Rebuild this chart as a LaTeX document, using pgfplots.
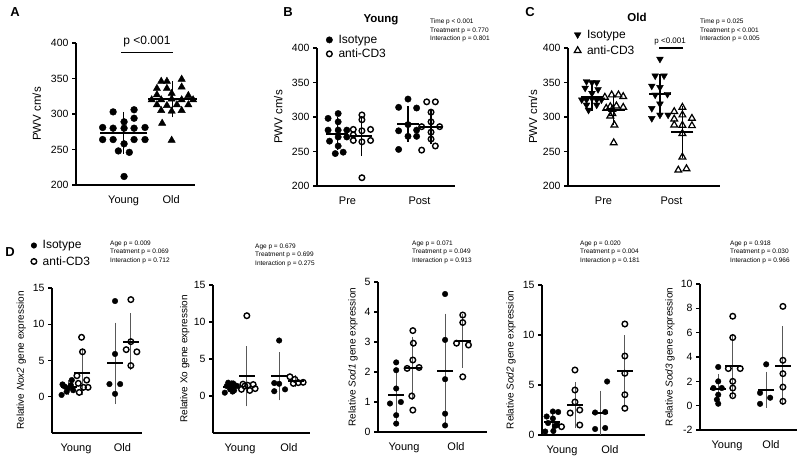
\documentclass[border=0pt]{standalone}
\usepackage{pgfplots}
\pgfplotsset{compat=1.18}
\usepackage{fontspec}
\setmainfont{Liberation Sans}

\pgfplotsset{
 gp/.style={
  scale only axis, anchor=south west, clip=false,
  axis x line*=bottom, axis y line*=left,
  axis line style={line width=1.1pt,-},
  tick align=outside, major tick length=4pt,
  ytick style={line width=1.1pt,black},
  xtick style={draw=none},
  yticklabel style={font=\fontsize{10.5}{12}\selectfont},
  xticklabel style={font=\fontsize{11}{13}\selectfont, yshift=-3pt},
  /pgf/number format/assume math mode=true,
  xtick={1,2},
  ylabel style={anchor=center},
  legend cell align=left,
  legend image code/.code={\draw[mark repeat=2,mark phase=2,##1] plot coordinates {(0pt,0pt)(6pt,0pt)(12pt,0pt)};},
 },
 leg/.style={legend style={at={#1}, anchor=north west, draw=none, fill=none,
  font=\fontsize{12}{14}\selectfont, inner sep=0pt, row sep=2pt,
  /tikz/every odd column/.append style={column sep=4pt}}},
 iso/.style={only marks, mark=*, mark size=3.2pt, black},
 anti/.style={only marks, mark=o, mark size=2.8pt, black, mark options={line width=1.4pt, fill=white}},
 isoT/.style={only marks, mark=triangle*, mark size=3.9pt, black, mark options={rotate=180}},
 antiT/.style={only marks, mark=triangle, mark size=3.9pt, black, mark options={line width=1.2pt, fill=white}},
 msd/.style n args={4}{only marks, mark=-, mark size=#1, black, mark options={line width=2pt},
   error bars/y dir=both, error bars/y explicit,
   error bars/error bar style={line width=#4, #3},
   error bars/error mark options={mark size=#2, line width=#4, #3}},
}
\tikzset{stat/.style={anchor=north west, align=left, inner sep=0pt, font=\fontsize{6.5}{8.6}\selectfont},
 letter/.style={font=\bfseries\fontsize{13}{15}\selectfont, inner sep=0pt},
 dlab/.style={font=\fontsize{10}{12}\selectfont}}

\begin{document}
\begin{tikzpicture}
\useasboundingbox (0pt,0pt) rectangle (803pt,459pt);

% ---------------- A ----------------
\begin{axis}[gp, at={(76pt,274pt)}, width=119pt, height=142pt,
 xmin=0, xmax=2.5, ymin=200, ymax=400, ytick={200,250,...,400},
 xticklabels={Young,Old}, ylabel={PWV cm/s},
 ylabel style={at={(axis description cs:-0.33,0.5)}, font=\fontsize{11.5}{13}\selectfont}]
\addplot[iso, mark size=3.4pt] coordinates {
 (0.78,303) (1.22,306) (1.22,294) (1.01,289) (0.56,281) (0.78,280) (1.01,280) (1.22,280) (1.45,281)
 (0.56,264) (0.78,264) (1.22,264) (1.45,264) (1.01,258) (0.89,248) (1.12,246) (1.01,212)};
\addplot[only marks, mark=triangle*, mark size=4.2pt, black] coordinates {
 (1.79,346) (1.91,346) (2.22,349) (1.70,336) (1.91,336) (2.22,338) (1.70,327) (2.01,329) (2.36,326)
 (1.59,320) (1.79,320) (2.01,321) (2.22,320) (2.46,320) (1.70,313) (1.91,312) (2.12,313) (2.36,313)
 (1.79,305) (2.01,304) (2.22,305) (1.81,287) (2.01,263)};
\addplot[msd={23.5pt}{5pt}{black}{1.3pt}] coordinates {(1.0,273.5) +- (0,22.5)};
\addplot[msd={24.5pt}{5pt}{black}{1.3pt}] coordinates {(2.02,320.8) +- (0,18.5)};
\draw[line width=1.3pt] (axis cs:0.95,387) -- (axis cs:2.04,387);
\node[font=\fontsize{12}{14}\selectfont] at (axis cs:1.49,401.5) {p <0.001};
\end{axis}

% ---------------- B ----------------
\begin{axis}[gp, at={(317pt,273pt)}, width=138pt, height=138pt,
 xmin=0.576, xmax=2.493, ymin=200, ymax=400, ytick={200,250,...,400},
 xticklabels={Pre,Post}, ylabel={PWV cm/s},
 ylabel style={at={(axis description cs:-0.28,0.5)}, font=\fontsize{11.5}{13}\selectfont},
 leg={(axis description cs:0.065,1.11)}, legend style={row sep=0pt}]
\addplot[iso] coordinates {
 (0.73,298) (0.87,305) (0.87,293) (0.73,281) (0.99,281) (0.87,281) (0.87,271) (0.75,265)
 (0.87,258) (0.83,247) (0.94,249) (0.99,271)};
\addlegendentry{Isotype}
\addplot[anti] coordinates {
 (1.20,303) (1.20,296) (1.08,282) (1.32,282) (1.20,280) (1.08,274) (1.08,266) (1.32,266) (1.20,264) (1.20,212)};
\addlegendentry{anti-CD3}
\addplot[iso, forget plot] coordinates {
 (1.84,326) (1.71,314) (1.96,313) (1.84,289) (1.71,280) (1.96,281) (1.84,272) (1.96,272) (1.71,253)};
\addplot[anti, forget plot] coordinates {
 (2.10,322) (2.22,322) (2.16,307) (2.03,286) (2.28,286) (2.16,293) (2.16,278) (2.16,268) (2.03,252) (2.22,258)};
\addplot[msd={11pt}{4pt}{black}{1.2pt}, forget plot] coordinates {(0.86,276) +- (0,18.5)};
\addplot[msd={11pt}{4pt}{black}{1.2pt}, forget plot] coordinates {(1.19,272) +- (0,23)};
\addplot[msd={11pt}{4pt}{black}{1.2pt}, forget plot] coordinates {(1.84,290) +- (0,20)};
\addplot[msd={11pt}{4pt}{black}{1.2pt}, forget plot] coordinates {(2.16,286) +- (0,20)};
\end{axis}

% ---------------- C ----------------
\begin{axis}[gp, at={(568pt,273pt)}, width=152pt, height=138pt,
 xmin=0.478, xmax=2.713, ymin=200, ymax=400, ytick={200,250,...,400},
 xticklabels={Pre,Post}, ylabel={PWV cm/s},
 ylabel style={at={(axis description cs:-0.23,0.5)}, font=\fontsize{11.5}{13}\selectfont},
 leg={(axis description cs:0.04,1.148)}]
\addplot[isoT] coordinates {
 (0.75,351.5) (0.83,350) (0.90,350) (0.73,342) (0.92,340) (0.83,334.5) (0.68,325) (0.75,325)
 (0.83,327) (0.90,325) (0.97,325) (0.75,317.5) (0.90,317.5) (0.78,310)};
\addlegendentry{Isotype}
\addplot[antiT] coordinates {
 (1.02,328.6) (1.12,332) (1.22,332) (1.29,329.6) (1.10,315) (1.19,316) (1.29,314) (1.04,312.6)
 (1.13,311) (1.13,305) (1.10,301.5) (1.16,288.4) (1.15,262.6)};
\addlegendentry{anti-CD3}
\addplot[isoT, forget plot] coordinates {
 (1.83,384) (1.76,359.7) (1.89,359.7) (1.71,345) (1.83,343) (1.76,332) (1.94,333) (1.83,319)
 (1.71,312.6) (1.71,298) (1.83,303) (1.95,303)};
\addplot[antiT, forget plot] coordinates {
 (2.04,307.8) (2.16,314) (2.30,298) (2.04,297) (2.16,303) (2.04,288.4) (2.30,287.4) (2.16,288)
 (2.16,276) (2.16,242) (2.10,223) (2.22,225)};
\addplot[msd={11pt}{4pt}{black}{1.2pt}, forget plot] coordinates {(0.83,328.6) +- (0,13.5)};
\addplot[msd={11pt}{4pt}{black}{1.2pt}, forget plot] coordinates {(1.15,310.5) +- (0,16.5)};
\addplot[msd={11pt}{4pt}{black}{1.2pt}, forget plot] coordinates {(1.83,333) +- (0,23)};
\addplot[msd={11pt}{4pt}{black}{1.2pt}, forget plot] coordinates {(2.16,278.6) +- (0,32)};
\draw[line width=1.2pt] (axis cs:1.82,400) -- (axis cs:2.17,400);
\node[font=\fontsize{8}{10}\selectfont] at (axis cs:1.98,410) {p <0.001};
\end{axis}

% ---------------- D1 Nox2 ----------------
\begin{axis}[gp, at={(52pt,26pt)}, width=90pt, height=145pt,
 xmin=0.484, xmax=2.42, ymin=-5, ymax=15, ytick={0,5,10,15},
 xticklabels={Young,Old}, ylabel={Relative \textit{Nox2} gene expression},
 ylabel style={at={(axis description cs:-0.34,0.5)}, dlab},
 leg={(axis description cs:-0.234,1.342)}]
\addplot[iso, mark size=2.8pt] coordinates {(0.69,0.25) (0.71,1.7) (0.80,0.7) (0.83,1.15) (0.89,1.6) (0.91,2.3) (0.94,0.9) (0.76,1.4)};
\addlegendentry{Isotype}
\addplot[anti] coordinates {(1.12,8.2) (1.14,6.2) (1.02,2.9) (1.23,2.3) (1.05,1.85) (1.26,1.3) (1.07,0.6) (1.16,1.3)};
\addlegendentry{anti-CD3}
\addplot[iso, mark size=2.8pt, forget plot] coordinates {(1.84,13.2) (1.84,5.9) (1.72,1.75) (1.95,1.75) (1.84,0.4)};
\addplot[anti, forget plot] coordinates {(2.18,13.4) (2.18,7.6) (2.08,6.5) (2.31,6.2) (2.18,4.3)};
\addplot[msd={8pt}{3pt}{black!65}{0.9pt}, forget plot] coordinates {(0.84,1.3) +- (0,0.6)};
\addplot[msd={8pt}{3pt}{black!65}{0.9pt}, forget plot] coordinates {(1.14,3.3) +- (0,2.7)};
\addplot[msd={8pt}{3pt}{black!65}{0.9pt}, forget plot] coordinates {(1.84,4.6) +- (0,5.2)};
\addplot[msd={8pt}{3pt}{black!65}{0.9pt}, forget plot] coordinates {(2.18,7.6) +- (0,3.5)};
\end{axis}

% ---------------- D2 Xo ----------------
\begin{axis}[gp, at={(213pt,26pt)}, width=97pt, height=148pt,
 xmin=0.449, xmax=2.43, ymin=-5, ymax=15, ytick={0,5,10,15},
 xticklabels={Young,Old}, ylabel={Relative Xo gene expression},
 ylabel style={at={(axis description cs:-0.29,0.5)}, dlab}]
\addplot[iso, mark size=2.8pt] coordinates {(0.69,0.45) (0.73,1.35) (0.80,1.55) (0.80,0.9) (0.85,0.6) (0.90,1.45) (0.94,1.35) (0.76,1.8) (0.88,0.75) (0.86,1.7)};
\addplot[anti] coordinates {(1.14,10.85) (1.06,1.6) (1.27,1.55) (1.16,1.45) (1.10,1.35) (1.03,0.9) (1.20,0.75) (1.31,1.0)};
\addplot[iso, mark size=2.8pt] coordinates {(1.80,7.5) (1.70,1.75) (1.80,1.65) (1.70,0.65) (1.92,0.9)};
\addplot[anti] coordinates {(2.02,2.6) (2.12,2.25) (2.09,1.7) (2.19,1.8) (2.29,1.85)};
\addplot[msd={8pt}{3pt}{black!65}{0.9pt}] coordinates {(0.82,1.2) +- (0,0.5)};
\addplot[msd={8pt}{3pt}{black!65}{0.9pt}] coordinates {(1.14,2.65) +- (0,3.65)};
\addplot[msd={8pt}{3pt}{black!65}{0.9pt}] coordinates {(1.80,2.65) +- (0,2.85)};
\addplot[msd={8pt}{3pt}{black!65}{0.9pt}] coordinates {(2.14,2.03) +- (0,0.35)};
\end{axis}

% ---------------- D3 Sod1 ----------------
\begin{axis}[gp, at={(378pt,27pt)}, width=109pt, height=150pt,
 xmin=0.5, xmax=2.596, ymin=0, ymax=5, ytick={0,1,2,3,4,5},
 xticklabels={Young,Old}, ylabel={Relative \textit{Sod1} gene expression},
 ylabel style={at={(axis description cs:-0.23,0.5)}, dlab}]
\addplot[iso, mark size=2.8pt] coordinates {(0.85,2.32) (0.85,2.06) (0.85,1.45) (0.73,0.95) (0.94,1.0) (0.85,0.56) (0.85,0.28)};
\addplot[anti] coordinates {(1.17,3.38) (1.18,2.96) (1.17,2.4) (1.06,2.12) (1.29,2.15) (1.15,1.2) (1.17,0.73)};
\addplot[iso, mark size=2.8pt] coordinates {(1.79,4.6) (1.79,3.07) (1.79,1.76) (1.79,0.61) (1.79,0.22)};
\addplot[anti] coordinates {(2.13,3.9) (2.13,3.65) (2.01,2.96) (2.24,2.9) (2.13,1.84)};
\addplot[msd={8pt}{3pt}{black!65}{0.9pt}] coordinates {(0.85,1.23) +- (0,0.75)};
\addplot[msd={8pt}{3pt}{black!65}{0.9pt}] coordinates {(1.17,2.13) +- (0,0.95)};
\addplot[msd={8pt}{3pt}{black!65}{0.9pt}] coordinates {(1.79,2.05) +- (0,1.8)};
\addplot[msd={8pt}{3pt}{black!65}{0.9pt}] coordinates {(2.13,3.05) +- (0,0.8)};
\end{axis}

% ---------------- D4 Sod2 ----------------
\begin{axis}[gp, at={(542pt,24pt)}, width=103pt, height=150pt,
 xmin=0.583, xmax=2.73, ymin=0, ymax=15, ytick={0,5,10,15},
 xticklabels={Young,Old}, ylabel={Relative \textit{Sod2} gene expression},
 ylabel style={at={(axis description cs:-0.30,0.5)}, dlab}]
\addplot[iso, mark size=2.8pt] coordinates {(0.81,2.35) (0.92,2.3) (0.68,1.85) (0.81,1.65) (0.71,1.2) (0.85,0.9) (0.65,0.35) (0.82,0.4) (0.90,1.0)};
\addplot[anti] coordinates {(1.27,6.5) (1.27,4.5) (1.27,3.3) (1.17,2.2) (1.37,2.5) (0.99,0.83) (1.37,1.0)};
\addplot[iso, mark size=2.8pt] coordinates {(1.94,5.35) (1.69,2.25) (1.90,2.3) (1.69,0.6) (1.90,0.7)};
\addplot[anti] coordinates {(2.31,11.1) (2.31,7.9) (2.31,6.17) (2.31,4.03) (2.31,2.67)};
\addplot[msd={8pt}{3pt}{black!65}{0.9pt}] coordinates {(0.80,1.33) +- (0,0.75)};
\addplot[msd={8pt}{3pt}{black!65}{0.9pt}] coordinates {(1.27,2.97) +- (0,2.0)};
\addplot[msd={8pt}{3pt}{black!65}{0.9pt}] coordinates {(1.80,2.24) +- (0,1.9)};
\addplot[msd={8pt}{3pt}{black!65}{0.9pt}] coordinates {(2.31,6.37) +- (0,3.3)};
\end{axis}

% ---------------- D5 Sod3 ----------------
\begin{axis}[gp, at={(700pt,29pt)}, width=97pt, height=146pt,
 xmin=0.386, xmax=2.59, ymin=-2, ymax=10, ytick={-2,0,2,4,6,8,10},
 xticklabels={Young,Old}, ylabel={Relative \textit{Sod3} gene expression},
 ylabel style={at={(axis description cs:-0.31,0.5)}, dlab}]
\addplot[iso, mark size=2.8pt] coordinates {(0.80,3.18) (0.80,2.0) (0.69,1.45) (0.88,1.45) (0.80,0.9) (0.77,0.5) (0.80,0.16)};
\addplot[anti] coordinates {(1.13,7.35) (1.13,5.6) (1.03,3.05) (1.30,3.05) (1.13,2.0) (1.13,1.45) (1.13,0.82)};
\addplot[iso, mark size=2.8pt] coordinates {(1.89,3.4) (1.75,1.05) (1.98,0.65) (1.75,0.15)};
\addplot[anti] coordinates {(2.27,8.16) (2.27,3.73) (2.27,2.63) (2.27,1.53) (2.27,0.36)};
\addplot[msd={8pt}{3pt}{black!65}{0.9pt}] coordinates {(0.80,1.4) +- (0,0.95)};
\addplot[msd={8pt}{3pt}{black!65}{0.9pt}] coordinates {(1.13,3.3) +- (0,2.3)};
\addplot[msd={8pt}{3pt}{black!65}{0.9pt}] coordinates {(1.89,1.31) +- (0,1.25)};
\addplot[msd={8pt}{3pt}{black!65}{0.9pt}] coordinates {(2.27,3.28) +- (0,3.0)};
\end{axis}

% ---------------- texts ----------------
\node[letter] at (15pt,447pt) {A};
\node[letter] at (288pt,447pt) {B};
\node[letter] at (530pt,447pt) {C};
\node[letter] at (10pt,207pt) {D};
\node[font=\bfseries\fontsize{11.5}{13}\selectfont] at (381pt,439pt) {Young};
\node[font=\bfseries\fontsize{11.5}{13}\selectfont] at (637pt,442pt) {Old};
\node[stat] at (430pt,440.5pt) {Time p < 0.001\\Treatment p = 0.770\\Interaction p = 0.801};
\node[stat] at (700pt,440.5pt) {Time p = 0.025\\Treatment p < 0.001\\Interaction p = 0.005};
\node[stat] at (110pt,218.5pt) {Age p = 0.009\\Treatment p = 0.069\\Interaction p = 0.712};
\node[stat] at (255pt,215.5pt) {Age p = 0.679\\Treatment p = 0.699\\Interaction p = 0.275};
\node[stat] at (412pt,218.5pt) {Age p = 0.071\\Treatment p = 0.049\\Interaction p = 0.913};
\node[stat] at (580pt,218.5pt) {Age p = 0.020\\Treatment p = 0.004\\Interaction p = 0.181};
\node[stat] at (730pt,218.5pt) {Age p = 0.918\\Treatment p = 0.030\\Interaction p = 0.966};
\end{tikzpicture}
\end{document}
